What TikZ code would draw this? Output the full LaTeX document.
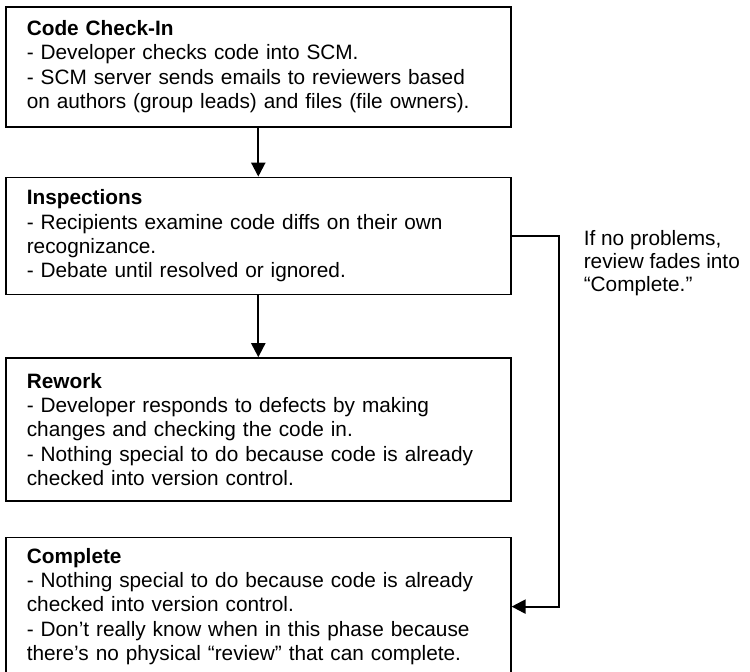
\documentclass[tikz,border=0pt]{standalone}
\usepackage{fontspec}
\setmainfont{Liberation Sans}
\usepackage{xcolor}
\usepackage{tikz}
\usetikzlibrary{positioning,calc,arrows.meta}
\tikzset{
  stageBox/.style={
    rectangle,
    draw=black,
    line width=1.6pt,
    fill=white,
    text width=463pt,
    inner xsep=21pt,
    align=left
  },
  arrowLine/.style={
    -{Triangle[length=14pt,width=14pt]},
    line width=2.2pt
  },
  noteText/.style={
    align=left,
    inner sep=0pt,
    font=\fontsize{20.8}{23}\selectfont
  }
}

\begin{document}
\begin{tikzpicture}[
            every node/.style={font=\fontsize{20.8}{24.4}\selectfont}
        ]
        \useasboundingbox (0,0) rectangle (750pt,-672pt);

        \node[stageBox, minimum height=120pt, anchor=north west] (checkin) at (5pt,-6pt)
          {\textbf{Code Check-In}\\- Developer checks code into SCM.\\- SCM server sends emails to reviewers based\\on authors (group leads) and files (file owners).};
        \node[stageBox, minimum height=117pt, below=49pt of checkin] (inspect)
          {\textbf{Inspections}\\- Recipients examine code diffs on their own\\recognizance.\\- Debate until resolved or ignored.};
        \node[stageBox, minimum height=143pt, below=62pt of inspect] (rework)
          {\textbf{Rework}\\- Developer responds to defects by making\\changes and checking the code in.\\- Nothing special to do because code is already\\checked into version control.};
        \node[stageBox, minimum height=138pt, below=35pt of rework] (complete)
          {\textbf{Complete}\\- Nothing special to do because code is already\\checked into version control.\\- Don’t really know when in this phase because\\there’s no physical “review” that can complete.};

        \draw[arrowLine] (checkin.south) -- (inspect.north);
        \draw[arrowLine] (inspect.south) -- (rework.north);

        % skip straight to complete
        \coordinate (turn) at ($(inspect.east)+(47pt,0)$);
        \draw[arrowLine] (inspect.east) -- (turn) |- (complete.east);
        \node[noteText, right=25pt of turn, yshift=-27pt] (note)
          {If no problems,\\review fades into\\“Complete.”};

    \end{tikzpicture}
\end{document}
